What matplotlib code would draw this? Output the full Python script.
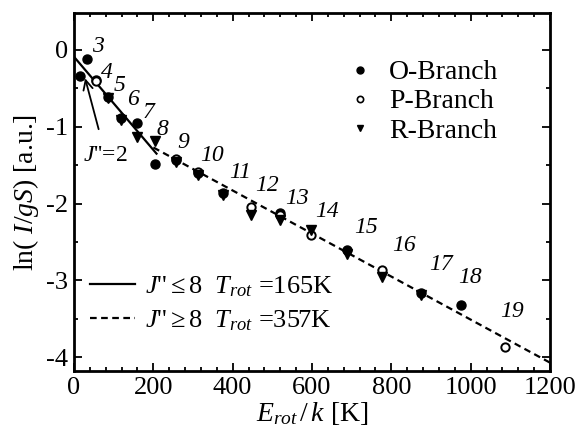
import numpy as np
import matplotlib
matplotlib.use('Agg')
import matplotlib.pyplot as plt
from matplotlib.ticker import MultipleLocator
from matplotlib.lines import Line2D

plt.rcParams['font.family'] = ['Liberation Serif', 'DejaVu Serif']
plt.rcParams['mathtext.fontset'] = 'custom'
plt.rcParams['mathtext.rm'] = 'Liberation Serif'
plt.rcParams['mathtext.it'] = 'Liberation Serif:italic'
plt.rcParams['mathtext.bf'] = 'Liberation Serif:bold'
plt.rcParams['axes.unicode_minus'] = False

nan = np.nan
# rotational quantum number J'' and rotational energy E_rot/k [K]
J = [2, 3, 4, 5, 6, 7, 8, 9, 10, 11, 12, 13, 14, 15, 16, 17, 18, 19]
E_rot = [15, 32, 55, 85, 118, 159, 205, 256, 313, 376, 446, 520, 598, 687, 777, 874, 976, 1086]
# ln(I/gS) per branch
O_branch = [-0.34, -0.12, -0.39, -0.61, -0.89, -0.95, -1.49, -1.43, -1.60, -1.86, nan, -2.12, nan, -2.61, nan, -3.17, -3.32, nan]
P_branch = [nan, nan, -0.40, nan, nan, nan, nan, -1.42, -1.59, nan, -2.04, -2.15, -2.41, nan, -2.87, nan, nan, -3.87]
R_branch = [nan, nan, nan, -0.62, -0.91, -1.13, -1.19, -1.46, -1.63, -1.89, -2.15, -2.21, -2.35, -2.66, -2.95, -3.19, nan, nan]

# Boltzmann fits
T_low, b_low, E_low = 165, -0.09, [0, 208]
T_high, b_high, E_high = 357, -0.71, [200, 1200]

# label positions for J'' numbers (layout)
lab_J = ['3', '4', '5', '6', '7', '8', '9', '10', '11', '12', '13', '14', '15', '16', '17', '18', '19']
lab_x = [60, 83, 116, 149, 187, 224, 275, 348, 418, 487, 562, 638, 736, 832, 925, 998, 1104]
lab_y = [0.04, -0.29, -0.47, -0.65, -0.82, -1.04, -1.21, -1.37, -1.60, -1.76, -1.93, -2.11, -2.31, -2.54, -2.80, -2.96, -3.41]

W, H = 581, 432
fig = plt.figure(figsize=(W / 100, H / 100), dpi=100)
ax = fig.add_axes([74 / W, 1 - 371 / H, 476 / W, 358 / H])

el = np.array(E_low, dtype=float)
eh = np.array(E_high, dtype=float)
l1, = ax.plot(el, b_low - el / T_low, color='black', lw=1.6, ls='-')
l2, = ax.plot(eh, b_high - eh / T_high, color='black', lw=1.6, ls=(0, (3, 2)))

ax.plot(E_rot, O_branch, 'o', color='black', ms=6.5, ls='none')
ax.plot(E_rot, P_branch, 'o', mfc='white', mec='black', mew=1.4, ms=6, ls='none')
ax.plot(E_rot, R_branch, 'v', color='black', ms=6.5, ls='none')

for t, x, y in zip(lab_J, lab_x, lab_y):
    ax.text(x, y, t, fontsize=17, style='italic', ha='center', va='center')

ax.annotate("$J$''=2", xy=(28, -0.37), xytext=(80, -1.38), fontsize=17,
            ha='center', va='center',
            arrowprops=dict(arrowstyle='->', color='black', lw=1.3,
                            shrinkA=10, shrinkB=0))

ax.set_xlim(0, 1200)
ax.set_ylim(-4.18, 0.48)
ax.xaxis.set_major_locator(MultipleLocator(200))
ax.xaxis.set_minor_locator(MultipleLocator(40))
ax.yaxis.set_major_locator(MultipleLocator(1))
ax.yaxis.set_minor_locator(MultipleLocator(0.5))
ax.tick_params(which='both', direction='in', top=True, right=True, width=1.3)
ax.tick_params(which='major', length=6, labelsize=19, pad=4)
ax.tick_params(which='minor', length=3)
for s in ax.spines.values():
    s.set_linewidth(2)

ax.set_xlabel(r"$E_{rot}\,/\,k$ [K]", fontsize=20, labelpad=1)
ax.set_ylabel(r"ln( $I/gS$) [a.u.]", fontsize=20, labelpad=4)

hO = Line2D([], [], marker='o', color='black', ms=5, ls='none')
hP = Line2D([], [], marker='o', mfc='white', mec='black', mew=1.2, ms=4.5, ls='none')
hR = Line2D([], [], marker='v', color='black', ms=5, ls='none')
leg1 = ax.legend([hO, hP, hR], ['O-Branch', 'P-Branch', 'R-Branch'],
                 loc='upper left', bbox_to_anchor=((349 - 74) / 476, (371 - 60) / 358),
                 frameon=False, fontsize=20, borderpad=0, borderaxespad=0,
                 handlelength=0.8, handletextpad=0.65, labelspacing=0.13)
ax.add_artist(leg1)

ax.legend([l1, l2], [r"$J$''$\leq 8$  $T_{rot}$ =165K", r"$J$''$\geq 8$  $T_{rot}$ =357K"],
          loc='upper left', bbox_to_anchor=((90 - 74) / 476, (371 - 274) / 358),
          frameon=False, fontsize=19, borderpad=0, borderaxespad=0,
          handlelength=1.7, handletextpad=0.4, labelspacing=0.37)

fig.savefig('out.png', dpi=100)
